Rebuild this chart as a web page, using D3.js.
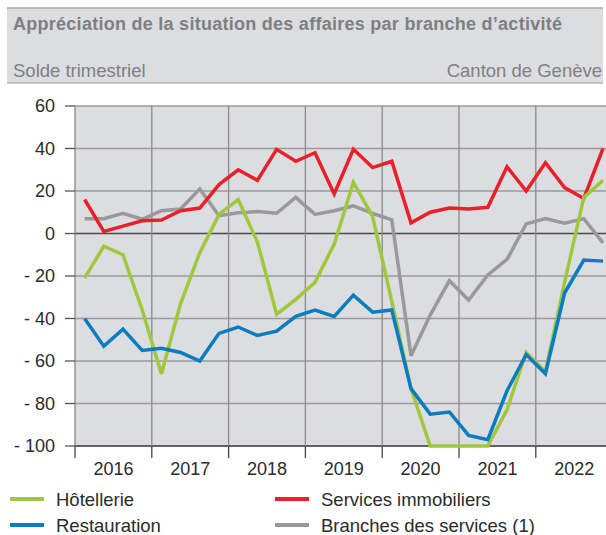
<!DOCTYPE html>
<html>
<head>
<meta charset="utf-8">
<script src="https://cdn.jsdelivr.net/npm/d3@7"></script>
<style>
    body { margin: 0; background: #ffffff; }
    text { font-family: "Liberation Sans", Arial, sans-serif; }
</style>
</head>
<body>
<svg id="chartSVG"></svg>
<script>
//data
let years = [2016, 2017, 2018, 2019, 2020, 2021, 2022];
let quarterNames = ["T1", "T2", "T3", "T4"];
let yTicks = [60, 40, 20, 0, -20, -40, -60, -80, -100];

let hotellerie = [-21, -6, -10, -36, -66, -33, -9, 9, 16, -4, -38, -31, -23, -5,
    24, 8, -32, -73, -100, -100, -100, -100, -83, -56, -65, -23, 17, 25];
let restauration = [-40, -53, -45, -55, -54, -56, -60, -47, -44, -48, -46, -39, -36, -39,
    -29, -37, -36, -73, -85, -84, -95, -97, -74, -57, -66, -28, -12.5, -13];
let servicesImmobiliers = [16, 1, 3.5, 6, 6.3, 10.7, 12, 23, 30, 25, 39.6, 34, 38, 18.6,
    39.6, 31, 34, 5, 10, 12, 11.5, 12.3, 31.4, 20, 33.3, 21.6, 16.5, 40];
let branchesServices = [7, 7, 9.5, 6.7, 10.7, 11.5, 21, 8.4, 9.8, 10.3, 9.5, 17, 9, 10.7,
    13, 9.5, 6.4, -57.5, -38.4, -22.2, -31.3, -19.5, -12.2, 4.5, 7, 4.8, 7, -4.4];

let seriesNames = ["Hôtellerie", "Restauration", "Services immobiliers", "Branches des services (1)"];
let seriesColors = ["#9fc83c", "#0a7cc0", "#e8202a", "#999999"];

// quarter positions (year + fraction)
let quarters = [];
years.forEach(function(y) {
    quarterNames.forEach(function(q, i) {
        quarters.push({year: y, q: q, t: y + (i + 0.5) / 4});
    });
});

let series = [
    {name: seriesNames[3], color: seriesColors[3], values: branchesServices},
    {name: seriesNames[2], color: seriesColors[2], values: servicesImmobiliers},
    {name: seriesNames[0], color: seriesColors[0], values: hotellerie},
    {name: seriesNames[1], color: seriesColors[1], values: restauration}
];

function drawChart() {
    let width = 606;
    let height = 535;

    let svg = d3.select("#chartSVG")
        .attr("width", width)
        .attr("height", height);

    // header band
    svg.append("rect")
        .attr("x", 7).attr("y", 8)
        .attr("width", 596).attr("height", 75)
        .attr("fill", "#dcdde0");
    svg.append("line")
        .attr("x1", 7).attr("x2", 603).attr("y1", 8).attr("y2", 8)
        .attr("stroke", "#a8a8a8").attr("stroke-width", 1.5);
    svg.append("line")
        .attr("x1", 7).attr("x2", 603).attr("y1", 83).attr("y2", 83)
        .attr("stroke", "#b5b5b5").attr("stroke-width", 1.5);

    svg.append("text")
        .attr("x", 13).attr("y", 30)
        .attr("fill", "#7f7f7f")
        .style("font-size", "18px")
        .style("font-weight", "bold")
        .attr("textLength", 549)
        .attr("lengthAdjust", "spacing")
        .text("Appréciation de la situation des affaires par branche d’activité");
    svg.append("text")
        .attr("x", 13).attr("y", 77)
        .attr("fill", "#808080")
        .style("font-size", "18.5px")
        .text("Solde trimestriel");
    svg.append("text")
        .attr("x", 602).attr("y", 77)
        .attr("fill", "#808080")
        .style("font-size", "18.5px")
        .style("text-anchor", "end")
        .text("Canton de Genève");

    //scales
    let x = d3.scaleLinear()
        .domain([2016, 2023])
        .range([75, 612.6]);
    let y = d3.scaleLinear()
        .domain([-100, 60])
        .range([446, 106]);

    // plot background
    svg.append("rect")
        .attr("x", x(2016)).attr("y", y(60))
        .attr("width", x(2023) - x(2016)).attr("height", y(-100) - y(60))
        .attr("fill", "#dcdde0");

    // horizontal grid
    svg.append("g")
        .selectAll("line")
        .data(yTicks)
        .enter()
        .append("line")
        .attr("x1", x(2016)).attr("x2", x(2023))
        .attr("y1", d => y(d)).attr("y2", d => y(d))
        .attr("stroke", d => d === 0 ? "#4a4a4a" : d === -100 ? "#333333" : "#9a9a9a")
        .attr("stroke-width", d => d === 0 || d === -100 ? 1.5 : 1.3);

    // vertical grid
    svg.append("g")
        .selectAll("line")
        .data(years)
        .enter()
        .append("line")
        .attr("x1", d => x(d)).attr("x2", d => x(d))
        .attr("y1", y(60)).attr("y2", y(-100))
        .attr("stroke", "#8a8a8a")
        .attr("stroke-width", 1.3);

    // y axis ticks + labels
    let yAxis = svg.append("g");
    yAxis.selectAll("line")
        .data(yTicks)
        .enter()
        .append("line")
        .attr("x1", 65).attr("x2", x(2016))
        .attr("y1", d => y(d)).attr("y2", d => y(d))
        .attr("stroke", "#555555")
        .attr("stroke-width", 1.3);
    yAxis.selectAll("text")
        .data(yTicks)
        .enter()
        .append("text")
        .attr("x", 55)
        .attr("y", d => y(d))
        .attr("dy", "0.36em")
        .attr("fill", "#2b2b2b")
        .style("font-size", "18px")
        .style("text-anchor", "end")
        .text(d => d < 0 ? "- " + Math.abs(d) : d);

    // x axis ticks + year labels
    let xAxis = svg.append("g");
    xAxis.selectAll("line")
        .data(years)
        .enter()
        .append("line")
        .attr("x1", d => x(d)).attr("x2", d => x(d))
        .attr("y1", y(-100)).attr("y2", y(-100) + 12)
        .attr("stroke", "#444444")
        .attr("stroke-width", 1.3);
    xAxis.selectAll("text")
        .data(years)
        .enter()
        .append("text")
        .attr("x", d => x(d + 0.5))
        .attr("y", 475)
        .attr("fill", "#2b2b2b")
        .style("font-size", "18px")
        .style("text-anchor", "middle")
        .text(d => d);

    // lines
    let line = d3.line()
        .x((d, i) => x(quarters[i].t))
        .y(d => y(d));

    svg.append("g")
        .selectAll("path")
        .data(series)
        .enter()
        .append("path")
        .attr("d", d => line(d.values))
        .attr("fill", "none")
        .attr("stroke", d => d.color)
        .attr("stroke-width", 3.5)
        .attr("stroke-linejoin", "miter")
        .attr("stroke-miterlimit", 3);

    // legend
    let legendItems = [
        {name: seriesNames[0], color: seriesColors[0], x: 10, y: 499},
        {name: seriesNames[2], color: seriesColors[2], x: 275, y: 499},
        {name: seriesNames[1], color: seriesColors[1], x: 10, y: 525},
        {name: seriesNames[3], color: seriesColors[3], x: 275, y: 525}
    ];
    let legend = svg.append("g")
        .selectAll("g")
        .data(legendItems)
        .enter()
        .append("g")
        .attr("transform", d => "translate(" + d.x + "," + d.y + ")");
    legend.append("line")
        .attr("x1", 0).attr("x2", 34)
        .attr("stroke", d => d.color)
        .attr("stroke-width", 4);
    legend.append("text")
        .attr("x", 46)
        .attr("dy", "0.36em")
        .attr("fill", "#2b2b2b")
        .style("font-size", "18.5px")
        .text(d => d.name);
}

drawChart();
</script>
</body>
</html>
